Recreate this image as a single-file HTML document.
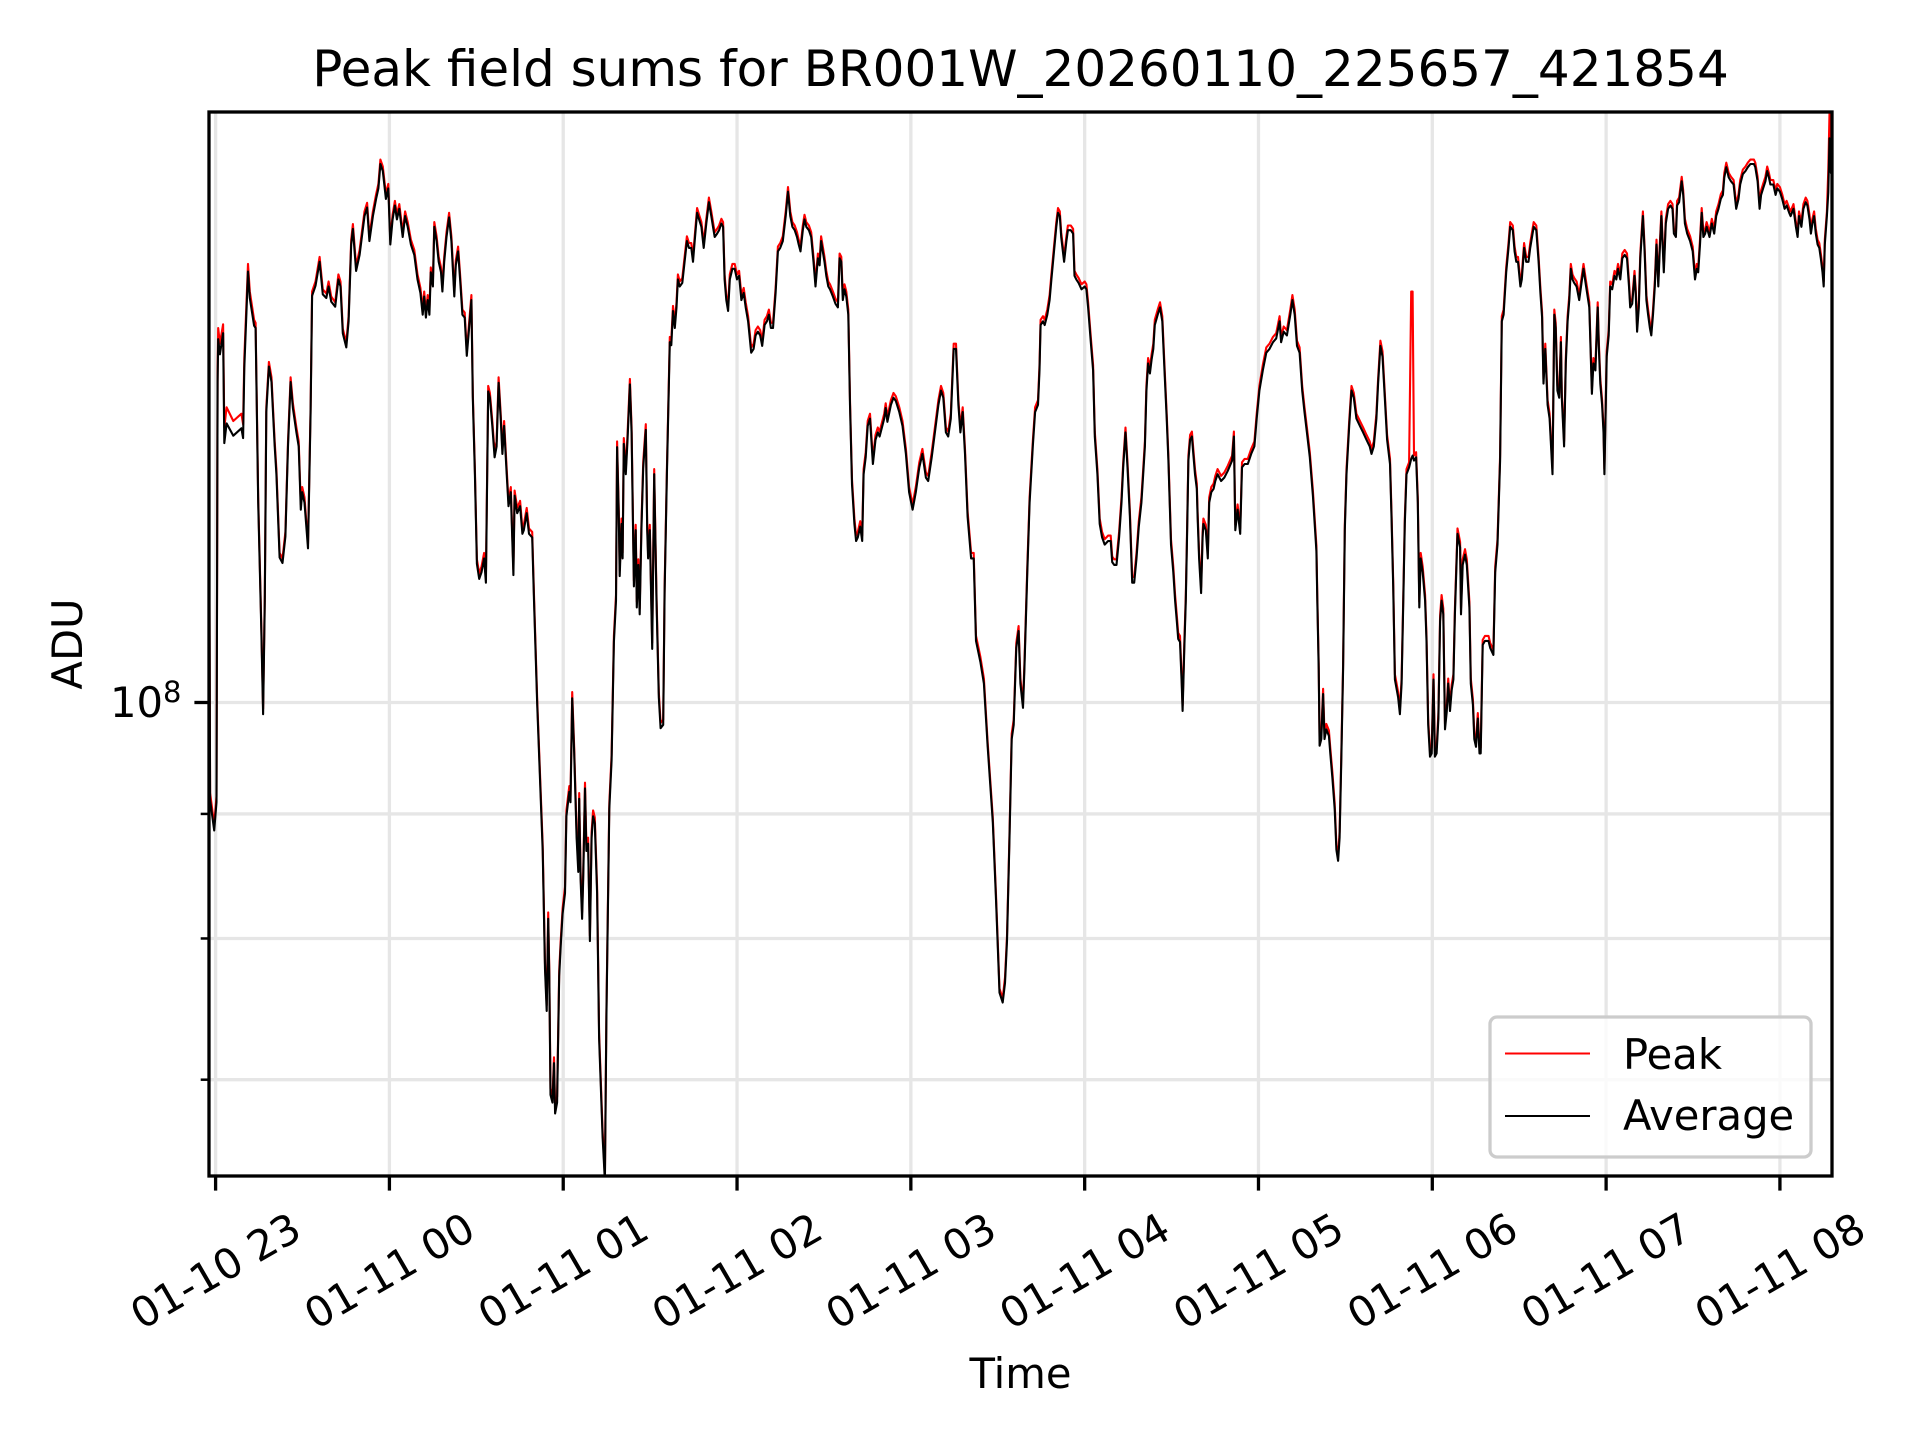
<!DOCTYPE html>
<html><head><meta charset="utf-8"><title>Peak field sums</title>
<style>
html,body{margin:0;padding:0;background:#fff;}
svg{display:block;font-family:"DejaVu Sans","Liberation Sans",sans-serif;}
</style></head>
<body>
<svg id="chart" xmlns="http://www.w3.org/2000/svg" width="1920" height="1440" viewBox="0 0 1920 1440">
<rect x="0" y="0" width="1920" height="1440" fill="#ffffff"/>
<text x="1020.5" y="86" font-size="50" text-anchor="middle">Peak field sums for BR001W_20260110_225657_421854</text>
<g id="grid"></g>
<defs><clipPath id="plotclip"><rect x="209" y="112" width="1623" height="1064"/></clipPath></defs>
<g id="series" clip-path="url(#plotclip)"></g>
<g id="axes"></g>
<text x="1020.5" y="1388" font-size="41.7" text-anchor="middle">Time</text>
<text transform="translate(82,644) rotate(-90)" font-size="41.7" text-anchor="middle">ADU</text>
<g>
  <rect x="1490" y="1017" width="321" height="140" rx="7" fill="#ffffff" fill-opacity="0.8" stroke="#cccccc" stroke-width="3.3"/>
  <line x1="1505" y1="1053.5" x2="1590" y2="1053.5" stroke="#ff0000" stroke-width="2.1"/>
  <text x="1623" y="1069" font-size="41.7">Peak</text>
  <line x1="1505" y1="1116" x2="1590" y2="1116" stroke="#000000" stroke-width="2.1"/>
  <text x="1623" y="1130" font-size="41.7">Average</text>
</g>
</svg>
<script>
// minutes after 01-10 23:00
const minutes = [
-2.2,-1.9,-0.5,0.3,0.7,0.9,1.5,2.6,3.0,3.8,
6.1,8.9,9.5,9.9,11.2,11.8,13.3,13.8,14.7,15.8,
16.4,17.0,17.5,18.4,19.3,20.4,21.0,22.1,23.1,24.1,
25.0,25.9,26.7,27.9,28.7,29.4,29.9,30.7,31.9,32.8,
33.3,34.5,35.9,37.0,38.2,39.0,39.9,41.3,42.4,43.1,
43.9,45.1,45.9,46.8,47.4,48.5,49.7,51.4,52.3,53.1,
54.3,55.4,56.2,56.9,57.7,58.8,59.6,60.3,61.1,61.9,
62.6,63.4,64.6,65.4,66.3,67.4,68.6,69.7,70.7,71.5,
72.0,72.6,73.2,73.8,74.3,75.0,75.5,76.3,77.0,77.8,
78.3,78.9,79.7,80.6,81.4,82.4,82.9,83.7,84.4,85.2,
86.0,86.7,87.5,88.3,88.8,89.5,90.2,91.0,91.8,92.7,
93.3,94.1,94.7,95.5,96.3,97.0,97.7,98.4,99.0,99.6,
100.5,101.1,101.9,102.8,103.2,104.1,105.1,105.9,106.4,107.4,
108.2,109.3,109.9,111.0,
112.9,113.7,114.3,114.8,115.2,115.6,116.3,116.8,117.2,117.9,
118.6,119.1,119.8,120.6,121.1,122.1,122.5,123.1,123.8,124.6,
125.2,125.5,126.0,126.5,126.9,127.5,128.0,128.6,129.2,129.8,
130.3,130.9,131.7,132.4,133.6,134.4,134.9,135.9,136.7,137.5,
138.2,138.6,139.2,139.5,140.1,140.5,140.9,141.6,142.2,143.0,
143.6,144.4,145.0,145.4,145.9,146.4,147.0,147.6,148.5,149.0,
149.3,149.9,150.7,151.4,152.2,153.0,153.6,154.5,155.0,155.8,
156.8,157.3,157.9,158.5,159.1,159.6,160.2,161.1,161.9,162.7,
163.4,164.2,164.8,165.4,166.2,166.9,167.7,168.5,169.4,170.3,
171.1,171.7,172.3,173.1,173.8,174.6,175.2,175.7,176.3,176.9,
177.5,178.4,179.2,180.0,180.7,181.5,182.3,183.0,183.8,184.3,
184.9,185.7,186.4,187.2,188.0,188.7,189.5,190.3,191.0,191.7,
192.4,193.3,194.1,194.9,195.8,196.8,197.6,198.4,199.1,199.9,
200.7,201.3,201.9,202.7,203.3,203.9,204.8,205.6,206.4,207.1,
207.9,208.5,209.0,209.6,210.2,210.8,211.5,212.1,213.1,214.0,
214.8,215.4,216.0,216.5,217.1,217.7,218.4,219.0,219.7,220.5,
221.1,221.7,222.5,223.2,223.7,224.4,225.1,225.9,226.9,227.8,
228.6,229.2,
230.8,231.3,231.9,233.1,234.0,234.8,236.0,237.1,238.3,239.4,
240.6,241.7,242.9,244.0,245.2,246.0,247.2,248.3,249.5,250.4,
251.2,252.1,252.9,253.8,254.8,255.6,256.4,257.1,257.9,258.7,
259.6,260.8,261.7,262.5,264.0,265.2,266.5,268.3,269.4,270.6,
271.7,272.5,273.2,274.0,274.8,275.5,276.4,277.2,277.8,278.7,
279.2,280.2,281.0,282.1,282.9,283.9,284.4,284.8,285.6,286.2,
287.1,287.9,288.5,289.4,290.2,290.8,291.4,291.9,292.9,293.7,
294.2,295.2,296.0,296.5,297.1,297.9,298.9,300.0,300.6,301.2,
302.1,302.9,303.5,304.4,305.2,306.0,306.9,308.1,309.0,309.5,
310.2,311.0,311.9,312.7,313.3,314.1,314.8,315.6,316.4,317.1,
317.9,318.7,319.6,320.2,320.8,321.3,321.9,322.5,323.1,323.7,
324.2,325.2,326.0,326.8,327.5,328.3,328.9,329.8,330.6,331.2,
331.8,332.3,332.9,333.5,333.8,334.4,334.9,335.3,335.8,336.4,
337.0,337.5,338.1,338.7,339.0,339.5,340.2,340.7,341.0,341.8,
342.5,343.0,343.7,344.5,345.1,
345.9,347.1,348.2,349.4,350.9,351.5,352.0,352.8,353.7,354.3,
355.2,356.3,357.5,358.6,359.4,360.3,361.5,362.7,363.8,365.0,
366.1,367.3,367.8,368.7,369.8,371.0,371.7,372.5,373.3,374.2,
375.1,375.9,376.7,377.7,378.8,380.0,380.3,380.8,381.1,381.7,
382.3,382.8,383.4,384.3,384.8,385.5,386.3,386.9,387.5,388.0,
388.6,389.2,389.8,390.4,391.3,392.1,392.9,393.8,395.0,396.1,
397.3,398.4,399.0,399.8,400.7,401.3,402.1,402.8,403.6,404.4,
405.4,405.9,406.5,407.1,408.2,408.8,409.4,410.0,410.5,411.1,
412.0,412.7,413.2,413.7,414.4,415.0,415.5,416.0,416.7,417.5,
418.0,418.6,419.2,419.8,420.4,420.9,421.5,422.1,422.7,423.2,
423.8,424.4,425.0,425.5,426.1,426.7,427.3,427.8,428.7,429.6,
429.9,430.5,431.3,431.9,432.8,433.3,434.0,434.5,435.1,435.7,
436.3,436.7,437.4,438.2,439.4,440.0,441.1,441.7,442.5,443.4,
444.0,444.6,445.5,446.3,446.9,447.8,448.4,449.0,449.6,450.4,
450.9,451.7,452.4,453.2,453.8,455.0,455.9,456.7,457.3,457.9,
458.4,459.0,459.8,460.5,
461.5,462.1,462.6,463.2,463.8,464.4,464.7,465.5,466.1,466.7,
467.3,467.8,468.4,469.0,469.8,470.7,471.5,472.2,473.1,474.2,
475.1,475.6,476.3,477.1,477.5,478.0,478.6,479.1,479.4,479.8,
480.2,480.9,481.4,482.1,482.9,483.5,484.1,484.9,485.6,486.4,
487.2,487.9,488.3,489.0,489.8,490.2,490.7,491.3,491.8,492.7,
493.3,493.9,494.5,495.1,495.6,496.2,496.8,497.4,498.0,498.5,
499.1,499.9,500.6,501.4,502.2,502.9,503.4,504.1,504.5,505.2,
506.1,506.6,507.2,508.0,509.0,509.9,510.7,511.3,511.8,512.4,
513.0,513.6,514.2,514.7,515.7,516.5,517.3,518.0,518.8,519.6,
520.3,520.8,521.5,522.3,523.1,524.0,524.9,525.7,526.3,527.2,
528.1,528.9,529.8,531.0,531.5,532.3,533.0,533.5,534.2,535.0,
535.6,536.2,536.7,537.7,538.5,539.1,540.0,540.8,541.6,542.3,
543.2,543.7,544.7,545.5,546.1,546.6,547.4,548.1,548.9,549.5,
550.2,550.7,551.2,551.8,552.4,553.0,553.6,554.1,554.7,555.1,
555.5,556.2,556.7,557.1,557.6,558.0
];
// Peak, in units of 1e8 ADU
const peak = [
1.183,0.918,0.891,0.915,1.367,1.425,1.404,1.43,1.297,1.322,
1.305,1.314,1.301,1.385,1.514,1.475,1.436,1.432,1.214,1.072,
0.994,1.107,1.322,1.38,1.36,1.28,1.247,1.152,1.146,1.175,
1.28,1.36,1.327,1.297,1.28,1.206,1.226,1.214,1.162,1.322,
1.475,1.489,1.524,1.478,1.472,1.489,1.468,1.46,1.499,1.489,
1.424,1.405,1.441,1.549,1.572,1.511,1.534,1.591,1.604,1.554,
1.591,1.617,1.633,1.671,1.66,1.617,1.633,1.549,1.586,1.607,
1.586,1.602,1.56,1.591,1.575,1.549,1.534,1.499,1.48,1.45,
1.475,1.446,1.47,1.45,1.509,1.489,1.575,1.554,1.524,1.509,
1.482,1.524,1.56,1.589,1.554,1.475,1.519,1.539,1.499,1.45,
1.446,1.394,1.432,1.47,1.34,1.247,1.145,1.13,1.137,1.152,
1.126,1.349,1.34,1.305,1.267,1.28,1.36,1.314,1.271,1.305,
1.247,1.21,1.226,1.134,1.222,1.202,1.21,1.179,1.183,1.202,
1.179,1.175,1.107,1.003,
0.874,0.781,0.751,0.82,0.776,0.694,0.689,0.715,0.682,0.689,
0.776,0.797,0.823,0.84,0.903,0.924,0.915,1.01,0.958,0.885,
0.857,0.918,0.851,0.82,0.851,0.927,0.874,0.88,0.802,0.885,
0.903,0.897,0.84,0.732,0.667,0.639,0.746,0.909,0.952,1.065,
1.107,1.28,1.198,1.133,1.19,1.152,1.284,1.247,1.288,1.358,
1.297,1.122,1.183,1.1,1.145,1.093,1.183,1.255,1.301,1.183,
1.152,1.183,1.058,1.247,1.107,1.01,0.981,0.984,1.115,1.247,
1.413,1.409,1.455,1.432,1.46,1.499,1.489,1.494,1.524,1.554,
1.544,1.544,1.524,1.554,1.596,1.586,1.575,1.544,1.58,1.612,
1.591,1.575,1.56,1.565,1.57,1.58,1.575,1.499,1.47,1.455,
1.499,1.514,1.514,1.499,1.504,1.47,1.48,1.46,1.441,1.422,
1.399,1.404,1.422,1.427,1.422,1.408,1.436,1.441,1.45,1.432,
1.432,1.48,1.539,1.544,1.554,1.591,1.628,1.591,1.575,1.57,
1.56,1.549,1.539,1.57,1.586,1.575,1.57,1.56,1.524,1.489,
1.529,1.519,1.554,1.539,1.524,1.504,1.489,1.485,1.475,1.465,
1.46,1.529,1.524,1.47,1.485,1.475,1.45,1.331,1.235,1.19,
1.171,1.175,1.187,1.171,1.247,1.267,1.305,1.314,1.259,1.288,
1.297,1.292,
1.314,1.327,1.31,1.331,1.34,1.336,1.322,1.305,1.271,1.226,
1.206,1.226,1.255,1.271,1.243,1.239,1.267,1.297,1.331,1.349,
1.34,1.297,1.292,1.314,1.404,1.404,1.331,1.297,1.322,1.271,
1.198,1.152,1.152,1.065,1.044,1.023,0.964,0.897,0.834,0.763,
0.756,0.771,0.802,0.88,0.971,0.984,1.058,1.075,1.023,1.0,
1.037,1.137,1.214,1.28,1.322,1.331,1.376,1.436,1.441,1.436,
1.45,1.47,1.499,1.539,1.575,1.596,1.591,1.56,1.524,1.554,
1.57,1.57,1.565,1.504,1.499,1.494,1.485,1.489,1.485,1.46,
1.413,1.376,1.292,1.247,1.19,1.175,1.167,1.171,1.171,1.148,
1.145,1.145,1.175,1.214,1.255,1.297,1.255,1.198,1.126,1.126,
1.152,1.187,1.214,1.247,1.28,1.349,1.385,1.372,1.39,1.404,
1.436,1.45,1.46,1.441,1.381,1.314,1.263,1.167,1.137,1.107,
1.086,1.068,1.065,1.023,0.997,1.058,1.107,1.167,1.263,1.288,
1.292,1.271,1.247,1.23,1.198,1.152,1.115,1.175,1.19,1.183,
1.152,1.214,1.226,1.23,1.239,
1.247,1.239,1.243,1.251,1.263,1.292,1.183,1.206,1.179,1.255,
1.259,1.259,1.271,1.28,1.314,1.349,1.376,1.399,1.404,1.413,
1.418,1.441,1.413,1.427,1.422,1.45,1.47,1.45,1.408,1.399,
1.349,1.322,1.297,1.267,1.222,1.16,1.107,1.037,0.964,0.971,
1.013,0.971,0.98,0.974,0.958,0.936,0.909,0.874,0.865,0.885,
0.952,1.037,1.183,1.247,1.305,1.349,1.34,1.314,1.305,1.297,
1.288,1.28,1.271,1.28,1.314,1.358,1.408,1.394,1.34,1.288,
1.259,1.198,1.122,1.027,1.01,0.994,1.023,1.107,1.19,1.247,
1.255,1.475,1.475,1.263,1.267,1.214,1.1,1.152,1.137,1.107,
1.065,0.984,0.955,0.958,1.027,0.955,0.958,0.99,1.086,1.107,
1.093,0.98,0.997,1.023,0.997,1.017,1.027,1.093,1.179,1.164,
1.093,1.145,1.156,1.145,1.1,1.023,1.003,0.971,0.964,0.99,
0.958,0.958,1.061,1.065,1.065,1.058,1.051,1.137,1.167,1.263,
1.441,1.45,1.509,1.544,1.575,1.57,1.539,1.524,1.524,1.489,
1.499,1.544,1.524,1.524,1.544,1.575,1.57,1.524,1.48,1.446,
1.358,1.404,1.331,1.314,
1.247,1.45,1.432,1.349,1.34,1.413,1.34,1.28,1.385,1.441,
1.47,1.514,1.499,1.494,1.489,1.47,1.494,1.514,1.489,1.46,
1.345,1.385,1.376,1.46,1.404,1.358,1.331,1.297,1.247,1.314,
1.394,1.422,1.489,1.485,1.504,1.499,1.514,1.499,1.529,1.534,
1.529,1.489,1.46,1.465,1.504,1.48,1.427,1.46,1.529,1.591,
1.539,1.47,1.45,1.432,1.422,1.45,1.489,1.549,1.489,1.539,
1.591,1.509,1.58,1.602,1.607,1.602,1.565,1.56,1.607,1.612,
1.644,1.623,1.58,1.565,1.554,1.539,1.499,1.514,1.509,1.549,
1.596,1.56,1.565,1.575,1.56,1.58,1.565,1.591,1.602,1.617,
1.623,1.65,1.666,1.65,1.644,1.639,1.602,1.617,1.639,1.655,
1.66,1.666,1.671,1.671,1.666,1.644,1.602,1.623,1.633,1.644,
1.66,1.65,1.639,1.639,1.623,1.633,1.628,1.617,1.602,1.607,
1.596,1.591,1.602,1.575,1.56,1.591,1.575,1.602,1.612,1.607,
1.586,1.565,1.58,1.591,1.565,1.549,1.544,1.529,1.509,1.489,
1.549,1.591,1.655,1.745,1.666,1.688
];
// Average, in units of 1e8 ADU
const average = [
1.175,0.912,0.886,0.91,1.354,1.41,1.39,1.418,1.278,1.302,
1.287,1.296,1.284,1.372,1.503,1.466,1.428,1.425,1.208,1.067,
0.989,1.101,1.316,1.374,1.354,1.274,1.241,1.147,1.141,1.17,
1.274,1.354,1.321,1.291,1.274,1.2,1.22,1.208,1.157,1.316,
1.469,1.483,1.517,1.471,1.466,1.482,1.461,1.454,1.492,1.482,
1.418,1.399,1.434,1.542,1.565,1.504,1.527,1.584,1.597,1.547,
1.584,1.61,1.626,1.664,1.653,1.61,1.626,1.542,1.579,1.6,
1.579,1.595,1.553,1.584,1.568,1.542,1.527,1.492,1.473,1.443,
1.468,1.439,1.463,1.443,1.502,1.482,1.568,1.547,1.517,1.502,
1.475,1.517,1.553,1.582,1.547,1.468,1.512,1.532,1.492,1.443,
1.439,1.388,1.425,1.463,1.334,1.241,1.14,1.124,1.131,1.146,
1.12,1.342,1.334,1.299,1.261,1.274,1.353,1.308,1.265,1.299,
1.241,1.204,1.22,1.128,1.216,1.196,1.204,1.173,1.177,1.196,
1.173,1.169,1.101,0.998,
0.869,0.777,0.747,0.815,0.772,0.69,0.685,0.711,0.678,0.685,
0.772,0.793,0.819,0.835,0.898,0.919,0.91,1.004,0.953,0.88,
0.852,0.913,0.846,0.815,0.846,0.922,0.869,0.875,0.798,0.88,
0.898,0.892,0.835,0.728,0.663,0.636,0.742,0.904,0.947,1.059,
1.101,1.273,1.192,1.127,1.184,1.146,1.277,1.241,1.281,1.351,
1.29,1.116,1.177,1.094,1.139,1.087,1.177,1.248,1.294,1.177,
1.146,1.177,1.052,1.241,1.101,1.005,0.976,0.979,1.109,1.241,
1.406,1.402,1.448,1.425,1.453,1.492,1.482,1.487,1.517,1.547,
1.537,1.537,1.517,1.547,1.589,1.579,1.568,1.537,1.573,1.605,
1.584,1.568,1.553,1.558,1.563,1.573,1.568,1.492,1.463,1.448,
1.492,1.507,1.507,1.492,1.497,1.463,1.473,1.453,1.434,1.415,
1.392,1.397,1.415,1.42,1.415,1.401,1.429,1.434,1.443,1.425,
1.425,1.473,1.532,1.537,1.547,1.584,1.621,1.584,1.568,1.563,
1.553,1.542,1.532,1.563,1.579,1.568,1.563,1.553,1.517,1.482,
1.522,1.512,1.547,1.532,1.517,1.497,1.482,1.478,1.468,1.458,
1.453,1.522,1.517,1.463,1.478,1.468,1.443,1.325,1.229,1.184,
1.165,1.169,1.181,1.165,1.241,1.261,1.299,1.308,1.253,1.282,
1.291,1.286,
1.308,1.321,1.304,1.325,1.334,1.33,1.316,1.299,1.265,1.22,
1.2,1.22,1.249,1.265,1.237,1.233,1.261,1.291,1.325,1.343,
1.334,1.291,1.286,1.308,1.397,1.397,1.325,1.291,1.316,1.265,
1.192,1.146,1.146,1.06,1.039,1.018,0.96,0.893,0.83,0.76,
0.753,0.767,0.798,0.876,0.966,0.979,1.053,1.07,1.018,0.995,
1.032,1.131,1.208,1.274,1.316,1.325,1.369,1.429,1.434,1.429,
1.443,1.463,1.492,1.532,1.568,1.589,1.584,1.553,1.517,1.547,
1.563,1.563,1.558,1.497,1.492,1.487,1.478,1.482,1.478,1.453,
1.406,1.369,1.286,1.241,1.184,1.169,1.161,1.165,1.165,1.142,
1.139,1.139,1.169,1.208,1.249,1.291,1.249,1.192,1.12,1.12,
1.146,1.181,1.208,1.241,1.274,1.342,1.378,1.365,1.383,1.397,
1.429,1.443,1.453,1.434,1.374,1.308,1.257,1.161,1.131,1.101,
1.08,1.062,1.059,1.018,0.992,1.052,1.101,1.161,1.257,1.282,
1.286,1.265,1.241,1.224,1.192,1.146,1.109,1.169,1.184,1.177,
1.146,1.208,1.22,1.224,1.233,
1.241,1.233,1.237,1.245,1.257,1.286,1.177,1.2,1.173,1.249,
1.253,1.253,1.265,1.274,1.308,1.343,1.369,1.392,1.397,1.406,
1.411,1.434,1.406,1.42,1.415,1.443,1.463,1.443,1.401,1.392,
1.343,1.316,1.291,1.261,1.216,1.154,1.101,1.032,0.96,0.966,
1.008,0.966,0.975,0.969,0.953,0.931,0.904,0.87,0.861,0.88,
0.947,1.032,1.177,1.241,1.299,1.343,1.334,1.308,1.299,1.291,
1.282,1.274,1.265,1.274,1.308,1.352,1.401,1.387,1.334,1.282,
1.253,1.192,1.116,1.022,1.005,0.989,1.018,1.101,1.184,1.241,
1.249,1.259,1.263,1.257,1.261,1.208,1.094,1.146,1.131,1.101,
1.06,0.979,0.95,0.953,1.022,0.95,0.953,0.985,1.08,1.101,
1.087,0.975,0.992,1.018,0.992,1.012,1.022,1.087,1.173,1.158,
1.087,1.139,1.15,1.139,1.094,1.018,0.998,0.966,0.959,0.985,
0.953,0.953,1.056,1.06,1.06,1.053,1.046,1.131,1.161,1.257,
1.434,1.443,1.502,1.537,1.568,1.563,1.532,1.517,1.517,1.482,
1.492,1.537,1.517,1.517,1.537,1.568,1.563,1.517,1.473,1.439,
1.352,1.397,1.325,1.308,
1.241,1.443,1.425,1.343,1.334,1.406,1.334,1.274,1.378,1.434,
1.463,1.507,1.492,1.487,1.482,1.463,1.487,1.507,1.482,1.453,
1.339,1.378,1.369,1.453,1.397,1.352,1.325,1.291,1.241,1.308,
1.387,1.415,1.482,1.478,1.497,1.492,1.507,1.492,1.522,1.527,
1.522,1.482,1.453,1.458,1.497,1.473,1.42,1.453,1.522,1.584,
1.532,1.463,1.443,1.425,1.415,1.443,1.482,1.542,1.482,1.532,
1.584,1.502,1.573,1.595,1.6,1.595,1.558,1.553,1.6,1.605,
1.637,1.616,1.573,1.558,1.547,1.532,1.492,1.507,1.502,1.542,
1.589,1.553,1.558,1.568,1.553,1.573,1.558,1.584,1.595,1.61,
1.616,1.643,1.659,1.643,1.637,1.632,1.595,1.61,1.632,1.648,
1.653,1.659,1.664,1.664,1.659,1.637,1.595,1.616,1.626,1.637,
1.653,1.643,1.632,1.632,1.616,1.626,1.621,1.61,1.595,1.6,
1.589,1.584,1.595,1.568,1.553,1.584,1.568,1.595,1.605,1.6,
1.579,1.558,1.573,1.584,1.558,1.542,1.537,1.522,1.502,1.482,
1.542,1.584,1.62,1.705,1.65,1.675
];
const xTickMinutes = [0,60,120,180,240,300,360,420,480,540];
const xTickLabels = ["01-10 23","01-11 00","01-11 01","01-11 02","01-11 03","01-11 04","01-11 05","01-11 06","01-11 07","01-11 08"];
const yMajorTicks = [1];
const yMinorTicks = [0.7,0.8,0.9];

const NS = "http://www.w3.org/2000/svg";
const PL = 209, PR = 1832, PT = 112, PB = 1176;
const X0 = 215.6, XPM = 2.8969;
const Y1 = 702.5, YPD = 2435;
function xs(m){ return X0 + m * XPM; }
function ys(v){ return Y1 - Math.log10(v) * YPD; }
function mk(tag, attrs, parent){
  const e = document.createElementNS(NS, tag);
  for (const k in attrs) e.setAttribute(k, attrs[k]);
  parent.appendChild(e);
  return e;
}
const grid = document.getElementById('grid');
const axes = document.getElementById('axes');
const series = document.getElementById('series');

xTickMinutes.forEach((m, i) => {
  const x = xs(m);
  const g = mk('line', {x1:x, y1:PT, x2:x, y2:PB, stroke:'#e6e6e6', 'stroke-width':3.3}, grid);
  
  
  const t = mk('line', {x1:x, y1:PB, x2:x, y2:PB + 14.6, stroke:'#000', 'stroke-width':3.3}, axes);
  
  
  const lbl = mk('text', {x:x, y:1271, 'font-size':41.7, 'text-anchor':'middle', 'dominant-baseline':'central', transform:'rotate(-30 ' + x + ' 1271)'}, axes);
  lbl.textContent = xTickLabels[i];
  
  
});
yMinorTicks.concat(yMajorTicks).forEach(v => {
  const y = ys(v);
  const g = mk('line', {x1:PL, y1:y, x2:PR, y2:y, stroke:'#e6e6e6', 'stroke-width':3.3}, grid);
  
  
});
yMinorTicks.forEach(v => {
  const y = ys(v);
  const t = mk('line', {x1:PL - 8.3, y1:y, x2:PL, y2:y, stroke:'#000', 'stroke-width':2.5}, axes);
  
  
});
yMajorTicks.forEach(v => {
  const y = ys(v);
  const t = mk('line', {x1:PL - 14.6, y1:y, x2:PL, y2:y, stroke:'#000', 'stroke-width':3.3}, axes);
  
  
  const lbl = mk('text', {x:110, y:y + 14.5, 'font-size':41.7}, axes);
  
  
  const base = mk('tspan', {}, lbl);
  base.textContent = '10';
  const sup = mk('tspan', {dy:-15, 'font-size':29}, lbl);
  sup.textContent = '8';
});

function pathFor(vals){
  const n = Math.min(minutes.length, vals.length);
  let d = '';
  for (let i = 0; i < n; i++) d += (i ? 'L' : 'M') + xs(minutes[i]).toFixed(1) + ' ' + ys(vals[i]).toFixed(1);
  return d;
}
const pk = mk('path', {d:pathFor(peak), fill:'none', stroke:'#ff0000', 'stroke-width':2.1, 'stroke-linejoin':'round'}, series);


const av = mk('path', {d:pathFor(average), fill:'none', stroke:'#000000', 'stroke-width':2.1, 'stroke-linejoin':'round'}, series);



const frame = mk('rect', {x:PL, y:PT, width:PR - PL, height:PB - PT, fill:'none', stroke:'#000', 'stroke-width':3.3}, axes);


</script>
</body></html>
